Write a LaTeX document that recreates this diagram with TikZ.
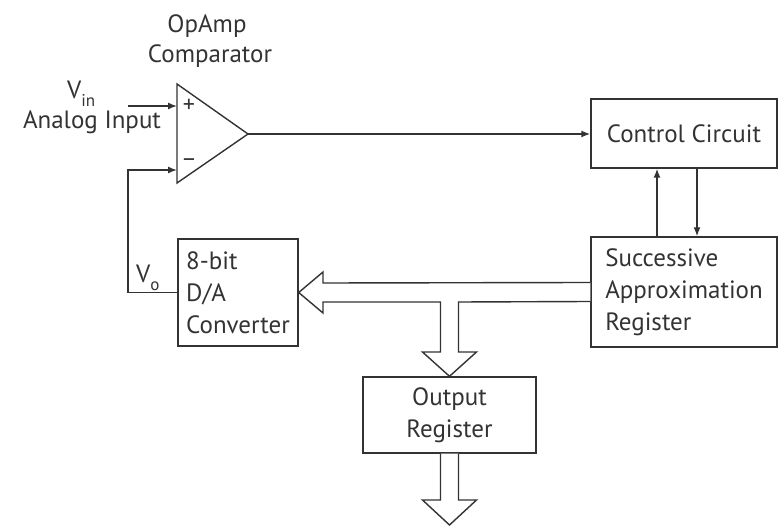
\documentclass[tikz,border=0pt]{standalone}
\usepackage{fontspec}
\setmainfont{PT Sans}
\usetikzlibrary{arrows.meta,calc}
\definecolor{ink}{HTML}{333333}
\begin{document}
\begin{tikzpicture}[x=1pt,y=-1pt,
  every node/.style={font=\fontsize{25}{32}\selectfont, text=ink},
  box/.style={draw=ink, line width=1.4pt, inner sep=0pt, align=left},
  wire/.style={draw=ink, line width=1.4pt},
  arr/.style={wire, -{Latex[length=9pt,width=7pt]}},
  bus/.style={draw=ink, line width=1.4pt, fill=white, line join=miter},
  lbl/.style={inner sep=0pt}]
\useasboundingbox (0,0) rectangle (779,526);
% boxes
\node[box, minimum width=186pt, minimum height=69pt] (cc) at (684,133.5) {Control Circuit};
\node[box, minimum width=186pt, minimum height=110pt] (sar) at (684,292) {Successive\\Approximation\\Register};
\node[box, minimum width=120pt, minimum height=107pt] (dac) at (238,292.5) {8-bit\\D/A\\Converter};
\node[box, minimum width=173pt, minimum height=76pt, align=center] (outreg) at (449.5,415) {Output\\Register};
% op amp
\draw[wire, line join=miter] (177,84) -- (248,134) -- (177,183) -- cycle;
\coordinate (oaout) at (248,134);
\coordinate (oaplus) at (177,106);
\coordinate (oaminus) at (177,170);
\coordinate (vin) at (128,106);
\coordinate (fb) at (128,170);
\node[lbl, font=\fontsize{24}{24}\selectfont] (plus) at (189,106) {+};
\node[lbl, font=\fontsize{24}{24}\selectfont] (minus) at (189,163) {–};
% labels
\node[lbl, anchor=base] (t1) at (207,33) {OpAmp};
\node[lbl, anchor=base] (t2) at (210,63) {Comparator};
\node[lbl, anchor=base west] (vinl) at (67,99) {V\raisebox{-8pt}{\fontsize{17}{17}\selectfont in}};
\node[lbl, anchor=base] (ain) at (92,129) {Analog Input};
\node[lbl, anchor=base west] (vol) at (136,283) {V\raisebox{-8pt}{\fontsize{17}{17}\selectfont o}};
% connectors
\draw[arr] (vin) -- (oaplus);
\draw[arr] (dac.west) -| (fb) -- (oaminus);
\draw[arr] (oaout) -- (oaout -| cc.west);
\draw[arr] ($(sar.north)+(-27,0)$) -- ($(cc.south)+(-27,0)$);
\draw[arr] ($(cc.south)+(13,0)$) -- ($(sar.north)+(13,0)$);
% bus arrows
\draw[bus] ($(sar.west)+(0,-9.5)$) -- (323,283) -- (323,272) -- (dac.east) -- (323,313) -- (323,302)
  -- (440.5,302) -- (440.5,352) -- (422.5,352) -- (outreg.north) -- (476.5,352) -- (458.5,352) -- (458.5,302)
  -- ($(sar.west)+(0,9.5)$);
\coordinate (busend) at (449.5,525);
\draw[bus] ($(outreg.south)+(-9,0)$) -- (440.5,500) -- (422.5,500) -- (busend) -- (476.5,500) -- (458.5,500) -- ($(outreg.south)+(9,0)$);
\end{tikzpicture}
\end{document}
